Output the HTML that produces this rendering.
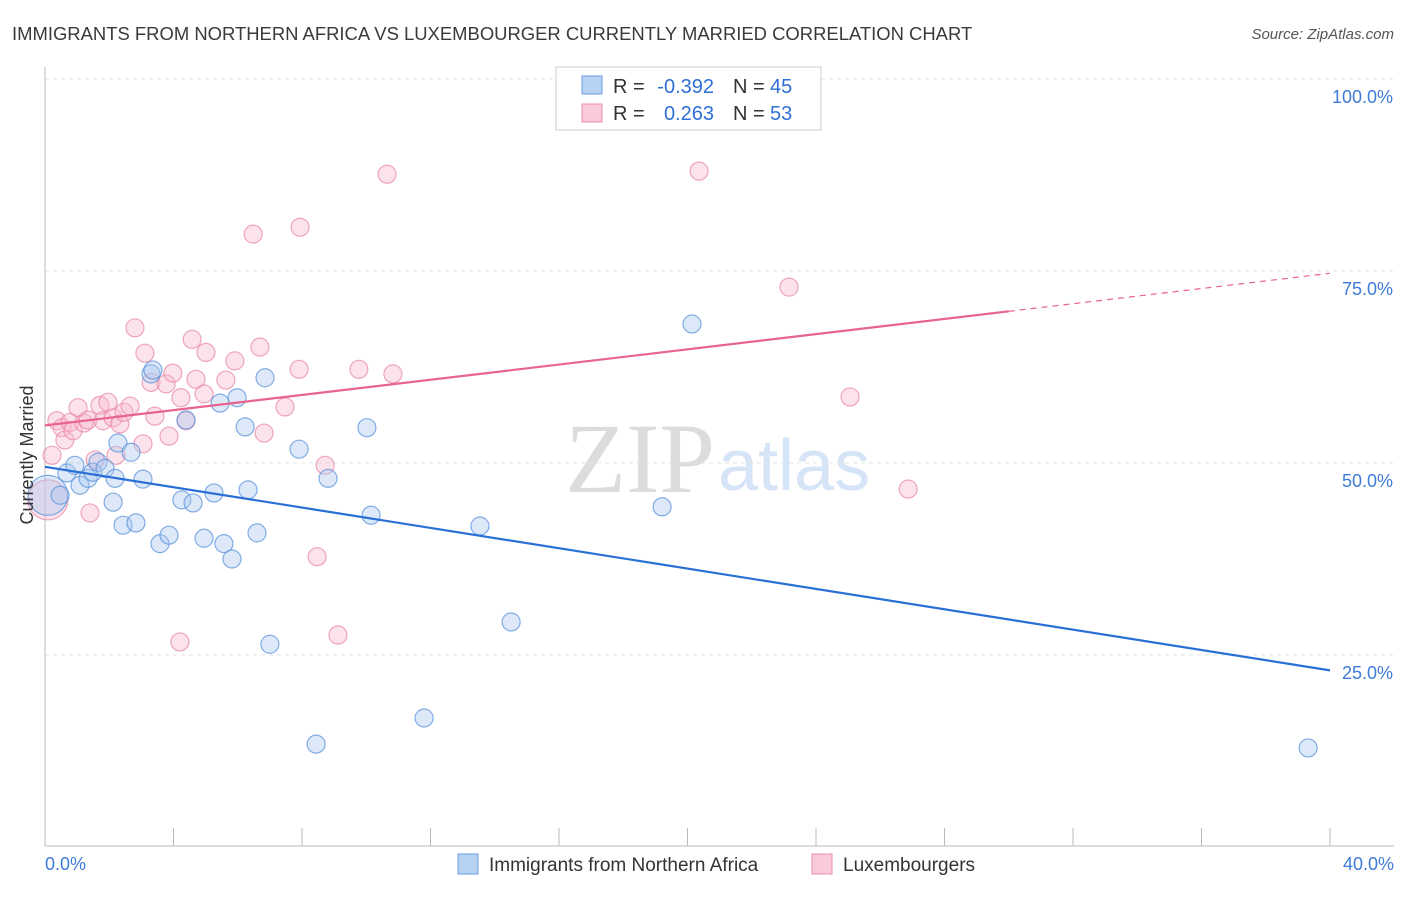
<!DOCTYPE html>
<html><head><meta charset="utf-8"><style>
body{margin:0;background:#fff;font-family:"Liberation Sans",sans-serif}
</style></head><body>
<svg id="c" width="1406" height="892" xmlns="http://www.w3.org/2000/svg" font-family="Liberation Sans, sans-serif">
<text x="12" y="40" font-size="18.45" fill="#3a3a3a">IMMIGRANTS FROM NORTHERN AFRICA VS LUXEMBOURGER CURRENTLY MARRIED CORRELATION CHART</text>
<text x="1394" y="39" font-size="15" fill="#555" font-style="italic" text-anchor="end">Source: ZipAtlas.com</text>
<text x="715" y="492" font-size="100" fill="#dcdcdc" text-anchor="end" font-family="Liberation Serif, serif">ZIP</text>
<text x="718" y="490" font-size="72" fill="#d5e4f6">atlas</text>
<g id="grid"></g><g id="pts"></g><g id="lines"></g>
<text x="33" y="455" font-size="18" fill="#333" text-anchor="middle" transform="rotate(-90 33 455)">Currently Married</text>
<g>
<rect x="556" y="67" width="265" height="63" fill="#fff" stroke="#ccc"/>
<rect x="582" y="76" width="20" height="18" fill="#b8d2f4" stroke="#6a9de0"/>
<rect x="582" y="104" width="20" height="18" fill="#fbcad8" stroke="#eb8fab"/>
<text x="613" y="93" font-size="20" fill="#333">R =</text>
<text x="714" y="93" font-size="20" fill="#2f6fd6" text-anchor="end">-0.392</text>
<text x="733" y="93" font-size="20" fill="#333">N =</text>
<text x="770" y="93" font-size="20" fill="#2f6fd6">45</text>
<text x="613" y="120" font-size="20" fill="#333">R =</text>
<text x="714" y="120" font-size="20" fill="#2f6fd6" text-anchor="end">0.263</text>
<text x="733" y="120" font-size="20" fill="#333">N =</text>
<text x="770" y="120" font-size="20" fill="#2f6fd6">53</text>
</g>
<g>
<rect x="458" y="854" width="20" height="20" fill="#b8d2f4" stroke="#6a9de0"/>
<text x="489" y="871" font-size="19" fill="#333">Immigrants from Northern Africa</text>
<rect x="812" y="854" width="20" height="20" fill="#fbcad8" stroke="#eb8fab"/>
<text x="843" y="871" font-size="19" fill="#333">Luxembourgers</text>
</g>
</svg>
<script>
const xTicks=[0,4,8,12,16,20,24,28,32,36,40];
const yTicks=[25,50,75,100];
const yTickLabels=["25.0%","50.0%","75.0%","100.0%"];
const blueX=[0.09,0.47,0.68,0.93,1.09,1.34,1.49,1.65,1.87,2.12,2.27,2.43,2.68,2.83,3.05,3.30,3.36,3.58,3.86,4.26,4.39,4.61,4.95,5.26,5.45,5.57,5.82,5.98,6.23,6.32,6.60,6.85,7.00,7.91,8.44,8.81,10.02,10.15,11.80,13.54,14.51,19.21,20.14,39.32,2.18];
const blueY=[45.8,45.8,48.7,49.7,47.1,48.0,48.8,50.1,49.3,44.9,52.6,41.9,51.4,42.2,47.9,61.6,62.1,39.5,40.6,45.2,55.6,44.8,40.2,46.1,57.8,39.5,37.5,58.5,54.7,46.5,40.9,61.1,26.4,51.8,13.4,48.0,54.6,43.2,16.8,41.8,29.3,44.3,68.1,12.9,48.0];
const pinkX=[0.22,0.37,0.53,0.62,0.78,0.87,1.03,1.21,1.34,1.40,1.56,1.71,1.81,1.96,2.12,2.21,2.33,2.46,2.65,2.80,3.05,3.11,3.30,3.42,3.77,3.86,3.98,4.23,4.20,4.39,4.58,4.70,4.95,5.01,5.63,5.91,6.48,6.69,6.82,7.47,7.91,7.94,8.47,8.72,9.12,9.77,10.65,10.83,20.36,23.16,25.06,26.87,0.09];
const pinkY=[51.0,55.5,54.6,53.0,55.3,54.2,57.2,55.2,55.6,43.5,50.4,57.5,55.5,57.9,55.9,51.0,55.1,56.6,57.4,67.6,52.5,64.3,60.5,56.1,60.3,53.5,61.7,58.5,26.7,55.5,66.1,60.9,59.0,64.4,60.8,63.3,79.8,65.1,53.9,57.3,62.2,80.7,37.8,49.7,27.6,62.2,87.6,61.6,88.0,72.9,58.6,46.6,45.2];
const blueBig=[0], pinkBig=[52];
const blueFit=[49.5,23.0], pinkFit=[54.9,74.7];
const NS="http://www.w3.org/2000/svg";
const X=v=>45+v/40*1285, Y=v=>847-v/100*768;
function mk(t,a,p){const e=document.createElementNS(NS,t);for(const k in a)e.setAttribute(k,a[k]);p.appendChild(e);return e;}
const g=document.getElementById('grid');
yTicks.forEach((t,i)=>{
 const l=mk('line',{x1:45,x2:1394,y1:Y(t),y2:Y(t),stroke:'#e3e3e3','stroke-dasharray':'4,4'},g);
 
 
 const tx=mk('text',{x:1393,y:Y(t)+24,'font-size':18,fill:'#3f7bd8','text-anchor':'end'},g);tx.textContent=yTickLabels[i];
 
 
});
const topLine=mk('line',{x1:45,x2:1394,y1:79,y2:79,stroke:'#e3e3e3','stroke-dasharray':'4,4'},g);


const ya=mk('line',{x1:45,x2:45,y1:67,y2:846,stroke:'#bbb'},g);


const xa=mk('line',{x1:45,x2:1394,y1:846,y2:846,stroke:'#bbb'},g);


xTicks.forEach(t=>{const l=mk('line',{x1:X(t),x2:X(t),y1:828,y2:846,stroke:'#bbb'},g);
 
 });
const x0=mk('text',{x:45,y:870,'font-size':18,fill:'#3f7bd8'},g);x0.textContent='0.0%';


const x1=mk('text',{x:1394,y:870,'font-size':18,fill:'#3f7bd8','text-anchor':'end'},g);x1.textContent='40.0%';


const p=document.getElementById('pts');
function pts(xs,ys,big,fill,st,name){xs.forEach((x,i)=>{
 const c=mk('circle',{cx:X(x),cy:Y(ys[i]),r:big.includes(i)?20:9,fill:fill,'fill-opacity':0.4,stroke:st,'stroke-opacity':0.75,'stroke-width':1.2},p);
 
 });}
pts(pinkX,pinkY,pinkBig,'#f8b9cc','#e98aa7','luxembourger-point');
pts(blueX,blueY,blueBig,'#a9c8f0','#5b93dc','immigrant-point');
const L=document.getElementById('lines');
const bl=mk('line',{x1:X(0),y1:Y(blueFit[0]),x2:X(40),y2:Y(blueFit[1]),stroke:'#2a6fd6','stroke-width':2.2},L);


const pm=pinkFit[0]+(pinkFit[1]-pinkFit[0])*30/40;
const pl=mk('line',{x1:X(0),y1:Y(pinkFit[0]),x2:X(30),y2:Y(pm),stroke:'#e8638e','stroke-width':2.2},L);


const pd=mk('line',{x1:X(30),y1:Y(pm),x2:X(40),y2:Y(pinkFit[1]),stroke:'#e8638e','stroke-width':1.2,'stroke-dasharray':'6,5'},L);


</script>
</body></html>
